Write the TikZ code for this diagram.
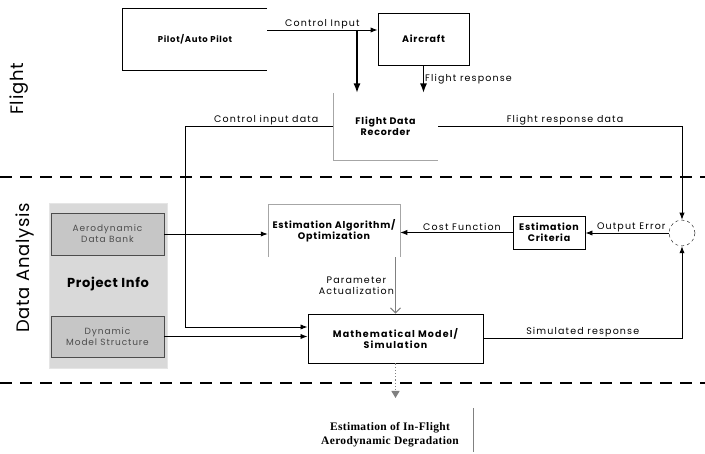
\documentclass[tikz,border=0pt]{standalone}
\usepackage{fontspec}
\setmainfont{Poppins}
\newfontfamily\resultfont[LetterSpace=3]{Liberation Serif}
\usetikzlibrary{calc,positioning,arrows.meta}

\begin{document}
\begin{tikzpicture}[x=1pt,y=-1pt,
        blk/.style={rectangle,align=center,inner sep=0pt,
                    font=\fontsize{9.5}{11}\selectfont\bfseries\addfontfeature{LetterSpace=8}},
        info/.style={rectangle,draw=gray!60!black,fill=gray!45,line width=0.9pt,
                     minimum width=113pt,minimum height=42pt,align=center,
                     font=\fontsize{9}{11}\selectfont\addfontfeature{LetterSpace=10},text=black!70},
        lbl/.style={font=\fontsize{9.5}{11}\selectfont\addfontfeature{LetterSpace=12},inner sep=1pt},
        side/.style={rotate=90,font=\fontsize{18}{20}\selectfont\addfontfeature{LetterSpace=4}},
        sep/.style={line width=1.6pt,dash pattern=on 12pt off 8pt},
        flow/.style={-Latex,line width=0.9pt}]
    \useasboundingbox (0,0) rectangle (705,454);

    \draw[sep] (0,177) -- (705,177);
    \draw[sep] (0,383) -- (705,383);
    \node[side] (flightlbl) at (19,89) {Flight};
    \node[side] (analysislbl) at (25,268) {Data Analysis};

    % flight part
    \node[blk,minimum width=144pt,minimum height=61pt,
          font=\fontsize{8.5}{10}\selectfont\bfseries\addfontfeature{LetterSpace=8}] (pilot)
        at (195,39.5) {Pilot/Auto Pilot};
    \draw[line width=0.8pt] (pilot.north east) -- (pilot.north west)
        -- (pilot.south west) -- (pilot.south east);
    \node[blk,draw,line width=0.8pt,minimum width=91pt,minimum height=52pt] (aircraft)
        at (423.5,39) {Aircraft};
    \node[blk,minimum width=105pt,minimum height=67pt] (fdr) at (385.5,126.5)
        {Flight Data\\Recorder};
    \draw[gray!70] (fdr.north west) -- (fdr.south west) -- (fdr.south east);

    \coordinate (split) at (357,30);
    \draw[flow] (pilot.east |- split) -- node[lbl,above,pos=0.5] {Control Input} (aircraft.west |- split);
    \draw[flow,line width=1.4pt] (split) -- (split |- fdr.north);
    \draw[flow,line width=1.4pt] (aircraft.south) -- node[lbl,right] {Flight response} (aircraft.south |- fdr.north);

    % data analysis part
    \node[rectangle,fill=gray!30,draw=gray!20,minimum width=118pt,minimum height=165pt]
        (project) at (108,285.5) {};
    \node[info] (adb) at (107.5,234) {Aerodynamic\\Data Bank};
    \node[info,minimum height=41pt] (dms) at (107.5,336.5) {Dynamic\\Model Structure};
    \node[blk,font=\fontsize{13}{15}\selectfont\bfseries\addfontfeature{LetterSpace=5}] (projinfo)
        at (108,284) {Project Info};

    \node[blk,minimum width=132pt,minimum height=53pt] (estalg) at (334,230.5)
        {Estimation Algorithm/\\Optimization};
    \draw[gray!70] (estalg.south west) -- (estalg.north west) -- (estalg.north east) -- (estalg.south east);
    \node[blk,draw,line width=0.8pt,minimum width=72pt,minimum height=33pt] (crit) at (549,232.5)
        {Estimation\\Criteria};
    \node[circle,draw,dashed,minimum size=26pt,inner sep=0pt] (sum) at (682,233) {};
    \node[blk,draw,line width=0.9pt,minimum width=175pt,minimum height=49pt,
          font=\fontsize{9.5}{11}\selectfont\bfseries\addfontfeature{LetterSpace=12}] (math)
        at (395.5,338.5) {Mathematical Model/\\Simulation};

    \draw[flow] (fdr.west) -- node[lbl,above,pos=0.45] {Control input data} (185,126.5)
        coordinate (cid) -- (cid |- 0,327) coordinate (cidlow) -- (cidlow -| math.west);
    \draw[flow] (fdr.east) -- node[lbl,above,pos=0.52] {Flight response data} (fdr.east -| sum.north)
        -- (sum.north);
    \draw[flow] (sum.west) -- node[lbl,above,pos=0.45] {Output Error} (sum.west -| crit.east);
    \draw[flow] (crit.west) -- node[lbl,above,pos=0.45] {Cost Function} (crit.west -| estalg.east);
    \draw[flow] (adb.east) -- (adb.east -| estalg.west);
    \draw[flow] (dms.east) -- (dms.east -| math.west);
    \draw[-{Straight Barb[length=5pt]},gray,line width=1pt] (math.north |- estalg.south)
        -- node[lbl,left,align=center,text=black] {Parameter\\Actualization} (math.north);
    \draw[flow] (math.east) -- node[lbl,above,pos=0.5] {Simulated response} (math.east -| sum.south)
        -- (sum.south);

    % result
    \node[font=\resultfont\fontsize{11.5}{14}\selectfont\bfseries,align=center] (result) at (390,435)
        {Estimation of In-Flight\\Aerodynamic Degradation};
    \coordinate (deg) at (395.5,398);
    \draw[-{Triangle[length=7pt,width=8pt]},gray,dotted,line width=1.2pt] (math.south) -- (deg);
    \draw[gray] (473,408) -- (473,452);
\end{tikzpicture}
\end{document}
